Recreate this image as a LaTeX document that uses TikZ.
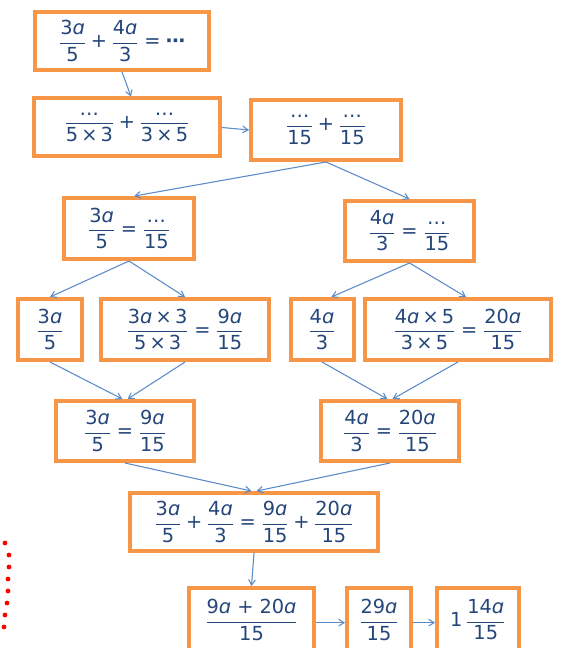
\documentclass[tikz,border=0pt]{standalone}
\usepackage{amsmath}
\usepackage{fontspec}
\setmainfont{DejaVu Sans}
\usetikzlibrary{arrows.meta}
\definecolor{fracOrange}{HTML}{F79646}
\definecolor{fracNavy}{HTML}{24467A}
\definecolor{fracBlue}{HTML}{5B8BC9}
% fraction with sans digits
\newcommand{\fr}[2]{\dfrac{\text{#1}}{\text{#2}}}
\newcommand{\va}{\textit{ɑ}}
\newcommand{\tm}{\,×\,}
\newcommand{\pl}{\mathbin{\text{+}}}
\newcommand{\eq}{\mathrel{\text{=}}}

\begin{document}
\begin{tikzpicture}[x=0.75pt,y=-0.75pt,
    box/.style={draw=fracOrange,fill=white,line width=3pt,align=center,
                inner sep=0pt,minimum height=43.5pt,text=fracNavy,
                font=\fontsize{14.5}{17}\selectfont},
    arr/.style={-{Straight Barb[length=4pt,width=5pt]},fracBlue,line width=0.8pt}]
  \useasboundingbox (0,0) rectangle (565,648);

  % top
  \node[box,minimum width=131pt] (b1) at (122,41) {$\fr{3\va}{5}\pl\fr{4\va}{3}\eq\text{\textbf{⋯}}$};
  \node[box,minimum width=139.5pt] (b2) at (127,127.5) {$\fr{…}{5\tm3}\pl\fr{…}{3\tm5}$};
  \node[box,minimum width=112.5pt,minimum height=45pt] (b3) at (326,130) {$\fr{…}{15}\pl\fr{…}{15}$};

  % two branches
  \node[box,minimum width=97.5pt,minimum height=45.75pt] (b4) at (129,228.5) {$\fr{3\va}{5}\eq\fr{…}{15}$};
  \node[box,minimum width=96.75pt,minimum height=45pt] (b5) at (409.5,231) {$\fr{4\va}{3}\eq\fr{…}{15}$};

  \node[box,minimum width=48pt,minimum height=45.75pt] (b6) at (50,329.5) {$\fr{3\va}{5}$};
  \node[box,minimum width=126pt,minimum height=45.75pt] (b7) at (185,329.5) {$\fr{3\va\tm3}{5\tm3}\eq\fr{9\va}{15}$};
  \node[box,minimum width=47.25pt,minimum height=45.75pt] (b8) at (322,329.5) {$\fr{4\va}{3}$};
  \node[box,minimum width=139.5pt,minimum height=45.75pt] (b9) at (458,329.5) {$\fr{4\va\tm5}{3\tm5}\eq\fr{20\va}{15}$};

  \node[box,minimum width=103.5pt,minimum height=45pt] (b10) at (125,431) {$\fr{3\va}{5}\eq\fr{9\va}{15}$};
  \node[box,minimum width=103.5pt,minimum height=45pt] (b11) at (390,431) {$\fr{4\va}{3}\eq\fr{20\va}{15}$};

  % sum
  \node[box,minimum width=186pt] (b12) at (254,522) {$\fr{3\va}{5}\pl\fr{4\va}{3}\eq\fr{9\va}{15}\pl\fr{20\va}{15}$};
  \node[box,minimum width=93.75pt,minimum height=48pt] (b13) at (251.5,620) {$\fr{9\va\ +\ 20\va}{15}$};
  \node[box,minimum width=48pt,minimum height=48pt] (b14) at (379,620) {$\fr{29\va}{15}$};
  \node[box,minimum width=61.5pt,minimum height=48pt] (b15) at (478,620) {1\,$\fr{14\va}{15}$};

  \draw[arr] (b1.south) -- ([xshift=3pt]b2.north);
  \draw[arr] (b2.east) -- (b3.west);
  \draw[arr] (b3.south) -- ([xshift=4pt]b4.north);
  \draw[arr] (b3.south) -- (b5.north);
  \draw[arr] (b4.south) -- (b6.north);
  \draw[arr] (b4.south) -- (b7.north);
  \draw[arr] (b5.south) -- ([xshift=7pt]b8.north);
  \draw[arr] (b5.south) -- ([xshift=6pt]b9.north);
  \draw[arr] (b6.south) -- ([xshift=-2pt]b10.north);
  \draw[arr] (b7.south) -- ([xshift=2pt]b10.north);
  \draw[arr] (b8.south) -- ([xshift=-2pt]b11.north);
  \draw[arr] (b9.south) -- ([xshift=2pt]b11.north);
  \draw[arr] (b10.south) -- ([xshift=-2pt]b12.north);
  \draw[arr] (b11.south) -- ([xshift=2pt]b12.north);
  \draw[arr] (b12.south) -- (b13.north);
  \draw[arr] ([yshift=-2pt]b13.east) -- ([yshift=-2pt]b14.west);
  \draw[arr] ([yshift=-2pt]b14.east) -- ([yshift=-2pt]b15.west);

  % red dots
  \foreach \dx/\dy in {5/543,9/555,9/567,8/579,8/591,7/603,5/615,4/627}
    \fill[red] (\dx,\dy) circle (1.8pt);
\end{tikzpicture}
\end{document}
